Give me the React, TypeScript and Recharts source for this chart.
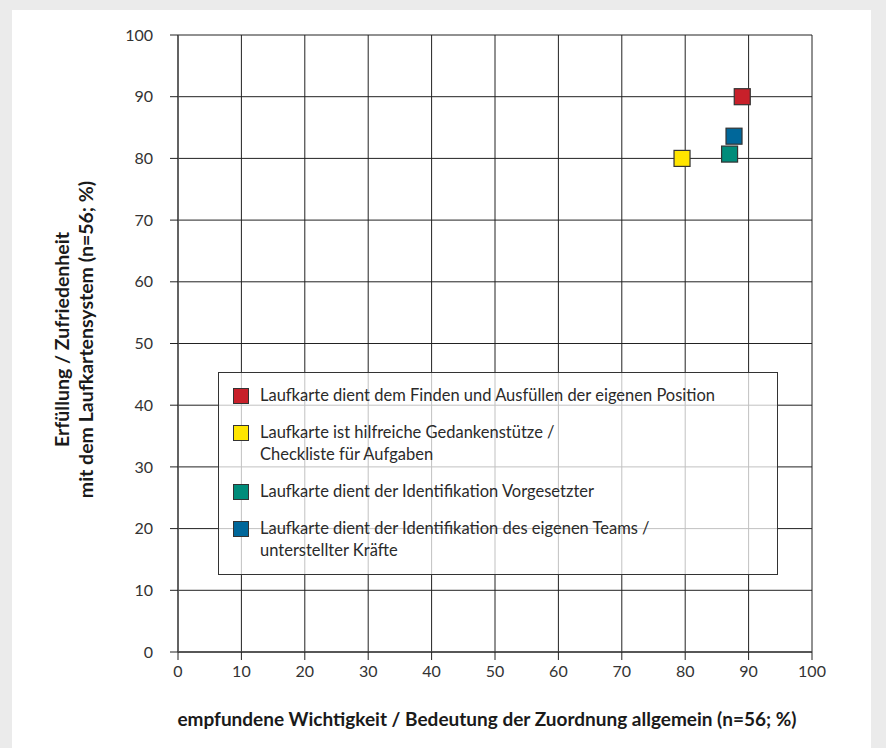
import React from "react";
import {
  ScatterChart,
  Scatter,
  XAxis,
  YAxis,
  CartesianGrid,
  Label,
} from "recharts";

const seriesNames = [
  "Laufkarte dient dem Finden und Ausfüllen der eigenen Position",
  "Laufkarte ist hilfreiche Gedankenstütze /\nCheckliste für Aufgaben",
  "Laufkarte dient der Identifikation Vorgesetzter",
  "Laufkarte dient der Identifikation des eigenen Teams /\nunterstellter Kräfte",
];
const seriesColors = ["#c8202a", "#ffe500", "#008c7a", "#00679a"];
const importance = [89, 79.5, 87, 87.7];
const satisfaction = [90, 80, 80.7, 83.6];
const ticks = [0, 10, 20, 30, 40, 50, 60, 70, 80, 90, 100];

const FONT = "Lato, 'Open Sans', sans-serif";

const SquareShape = (props: any) => {
  const { cx, cy, fill } = props;
  const s = 16;
  return (
    <rect
      x={cx - s / 2}
      y={cy - s / 2}
      width={s}
      height={s}
      fill={fill}
      stroke="#333"
      strokeWidth={1.2}
    />
  );
};

const YTitle = (props: any) => {
  const vb = props.viewBox || {};
  const cy = vb.y + vb.height / 2 - 4;
  return (
    <g transform={`translate(0, ${cy}) rotate(-90)`}>
      <text
        textAnchor="middle"
        fontFamily={FONT}
        fontWeight={700}
        fontSize={19.5}
        fill="#1a1a1a"
      >
        <tspan x={0} y={69}>Erfüllung / Zufriedenheit</tspan>
        <tspan x={0} y={93}>mit dem Laufkartensystem (n=56; %)</tspan>
      </text>
    </g>
  );
};

const XTitle = (props: any) => {
  const vb = props.viewBox || {};
  return (
    <text
      x={vb.x + vb.width / 2 - 8}
      y={726}
      textAnchor="middle"
      fontFamily={FONT}
      fontWeight={700}
      fontSize={19}
      fill="#1a1a1a"
    >
      empfundene Wichtigkeit / Bedeutung der Zuordnung allgemein (n=56; %)
    </text>
  );
};

export default function App() {
  return (
    <div
      style={{
        position: "absolute",
        left: 0,
        top: 0,
        width: 886,
        height: 748,
        background: "#ebebeb",
        overflow: "hidden",
      }}
    >
      <div
        style={{
          position: "absolute",
          left: 12,
          top: 10,
          width: 859,
          height: 738,
          background: "#ffffff",
        }}
      />
      <div style={{ position: "absolute", left: 0, top: 0 }}>
        <ScatterChart
          width={886}
          height={748}
          margin={{ top: 35, right: 74, bottom: 66, left: 118 }}
        >
          <CartesianGrid stroke="#222" strokeWidth={1} />
          <XAxis
            type="number"
            dataKey="x"
            domain={[0, 100]}
            ticks={ticks}
            interval={0}
            height={30}
            tickSize={8}
            tickMargin={6}
            axisLine={{ stroke: "#444", strokeWidth: 1.5 }}
            tickLine={{ stroke: "#222" }}
            tick={{ fill: "#333", fontSize: 16, fontFamily: FONT }}
          >
            <Label content={<XTitle />} />
          </XAxis>
          <YAxis
            type="number"
            dataKey="y"
            domain={[0, 100]}
            ticks={ticks}
            interval={0}
            width={60}
            tickSize={8}
            tickMargin={17}
            axisLine={{ stroke: "#555", strokeWidth: 1.5 }}
            tickLine={{ stroke: "#222" }}
            tick={{ fill: "#333", fontSize: 16, fontFamily: FONT }}
          >
            <Label content={<YTitle />} />
          </YAxis>
          {seriesNames.map((name, i) => (
            <Scatter
              key={name}
              name={name}
              data={[{ x: importance[i], y: satisfaction[i] }]}
              fill={seriesColors[i]}
              shape={<SquareShape />}
              isAnimationActive={false}
            />
          ))}
        </ScatterChart>
      </div>
      <div
        style={{
          position: "absolute",
          left: 218,
          top: 372,
          width: 560,
          height: 203,
          border: "1px solid #333",
          background: "rgba(255,255,255,0.72)",
          fontFamily: FONT,
          fontSize: 16.5,
          color: "#2a2a2a",
          padding: "11px 0 0 14px",
          boxSizing: "border-box",
        }}
      >
        {seriesNames.map((name, i) => (
          <div
            key={name}
            style={{
              display: "flex",
              alignItems: "flex-start",
              marginBottom: 15,
              lineHeight: "22px",
            }}
          >
            <div
              style={{
                width: 14,
                height: 14,
                marginTop: 4,
                marginRight: 11,
                background: seriesColors[i],
                border: "1px solid #333",
                flexShrink: 0,
              }}
            />
            <div style={{ whiteSpace: "pre" }}>{name}</div>
          </div>
        ))}
      </div>
    </div>
  );
}
